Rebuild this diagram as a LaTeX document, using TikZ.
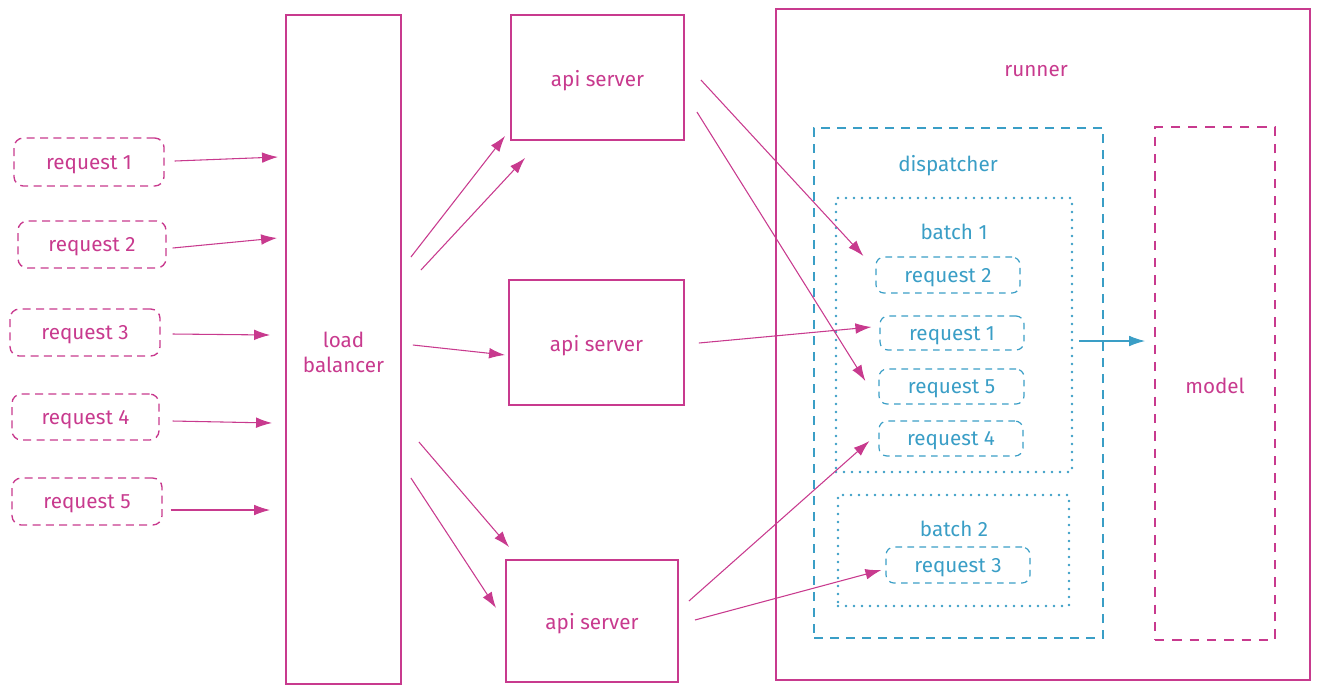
\documentclass[tikz,border=0pt]{standalone}
\usepackage{fontspec}
\setmainfont{Fira Sans}
\usetikzlibrary{arrows.meta,fit,calc}
\definecolor{pk}{HTML}{C83A8E}
\definecolor{bl}{HTML}{3A9EC6}
\begin{document}
\begin{tikzpicture}[x=0.75pt,y=-0.75pt,
 txt/.style={font=\fontsize{15.5}{19}\selectfont, align=center, yshift=-2pt},
 ptxt/.style={label={[txt,text=pk]center:#1}},
 btxt/.style={label={[txt,text=bl]center:#1}},
 pinkbox/.style={draw=pk, line width=1.4pt, inner sep=0pt},
 reqbox/.style={draw=pk, line width=1pt, dash pattern=on 6pt off 4pt, rounded corners=7pt, inner sep=0pt},
 breq/.style={draw=bl, line width=0.9pt, dash pattern=on 5pt off 4pt, rounded corners=6pt, inner sep=0pt},
 dispbox/.style={draw=bl, line width=1.5pt, dash pattern=on 7pt off 5pt, inner sep=0pt},
 batchbox/.style={draw=bl, line width=2pt, dash pattern=on 0pt off 6pt, line cap=round, inner sep=0pt},
 modelbox/.style={draw=pk, line width=1.4pt, dash pattern=on 7pt off 6pt, inner sep=0pt},
 plabel/.style={text=pk, txt},
 blabel/.style={text=bl, txt},
 parr/.style={draw=pk, line width=0.8pt, -{Latex[length=12pt,width=8pt]}},
 barr/.style={draw=bl, line width=0.8pt, -{Latex[length=12pt,width=8pt]}},
]
\useasboundingbox (0,0) rectangle (1319,694);

% left requests
\node[reqbox, fit={(14,138) (164,186)}, ptxt={request 1}] (r1) {};
\node[reqbox, fit={(18,221) (166,268)}, ptxt={request 2}] (r2) {};
\node[reqbox, fit={(10,309) (160,356)}, ptxt={request 3}] (r3) {};
\node[reqbox, fit={(12,394) (159,440)}, ptxt={request 4}] (r4) {};
\node[reqbox, fit={(12,478) (162,525)}, ptxt={request 5}] (r5) {};

% load balancer
\node[pinkbox, fit={(286,15) (401,684)}, ptxt={load\\balancer}] (lb) {};

% api servers
\node[pinkbox, fit={(511,15) (684,140)}, ptxt={api server}] (a1) {};
\node[pinkbox, fit={(509,280) (684,405)}, ptxt={api server}] (a2) {};
\node[pinkbox, fit={(506,560) (678,682)}, ptxt={api server}] (a3) {};

% runner
\node[pinkbox, fit={(776,9) (1310,680)}] (runner) {};
\node[plabel] (runnerlbl) at (1036,68) {runner};

% dispatcher
\node[dispbox, fit={(814,128) (1103,638)}] (disp) {};
\node[blabel] (displbl) at (948,163) {dispatcher};

% batch 1
\node[batchbox, fit={(836,198) (1072,472)}] (bt1) {};
\node[blabel] (bt1lbl) at (954,229) {batch 1};
\node[breq, fit={(876,257) (1020,293)}, btxt={request 2}] (b2) {};
\node[breq, fit={(880,316) (1024,350)}, btxt={request 1}] (b1) {};
\node[breq, fit={(879,369) (1024,404)}, btxt={request 5}] (b5) {};
\node[breq, fit={(879,421) (1023,456)}, btxt={request 4}] (b4) {};

% batch 2
\node[batchbox, fit={(838,495) (1069,606)}] (bt2) {};
\node[blabel] (bt2lbl) at (954,526) {batch 2};
\node[breq, fit={(886,547) (1030,583)}, btxt={request 3}] (b3) {};

% model
\node[modelbox, fit={(1155,127) (1275,640)}, ptxt={model}] (model) {};

% requests -> load balancer
\draw[parr] ($(r1.east)+(10,-1)$) -- ($(lb.west |- r1.east)+(-7,-5)$);
\draw[parr] ($(r2.east)+(6,3.5)$) -- ($(lb.west |- r2.east)+(-8,-6.5)$);
\draw[parr] ($(r3.east)+(12,1.5)$) -- ($(lb.west |- r3.east)+(-15,2.5)$);
\draw[parr] ($(r4.east)+(13,4)$) -- ($(lb.west |- r4.east)+(-13,6)$);
\draw[parr] ($(r5.east)+(8,8.5)$) -- ($(lb.west |- r5.east)+(-15,8.5)$);

% load balancer -> api servers
\draw[parr] ($(lb.east)+(9,-92.5)$) -- ($(a1.south west)+(-5,-5)$);
\draw[parr] ($(lb.east)+(19,-79.5)$) -- ($(a1.south west)+(15,17)$);
\draw[parr] ($(lb.east)+(11,-4.5)$) -- ($(a2.west)+(-3,12.5)$);
\draw[parr] ($(lb.east)+(17,92.5)$) -- ($(a3.north west)+(4,-12)$);
\draw[parr] ($(lb.east)+(9,128.5)$) -- ($(a3.west)+(-9,-13)$);

% api servers -> batched requests
\draw[parr] ($(a1.east)+(16,2.5)$) -- ($(b2.west)+(-12,-19)$);
\draw[parr] ($(a1.east)+(12,34.5)$) -- ($(b5.west)+(-13,-5.5)$);
\draw[parr] ($(a2.east)+(14,0.5)$) -- ($(b1.west)+(-8,-6)$);
\draw[parr] ($(a3.east)+(10,-20)$) -- ($(b4.west)+(-9,2.5)$);
\draw[parr] ($(a3.east)+(16,-1)$) -- ($(b3.west)+(-4,5)$);

% dispatcher -> model
\draw[barr] ($(disp.east)+(-25,-42)$) -- ($(model.west)+(-9,-42.5)$);
\end{tikzpicture}
\end{document}
